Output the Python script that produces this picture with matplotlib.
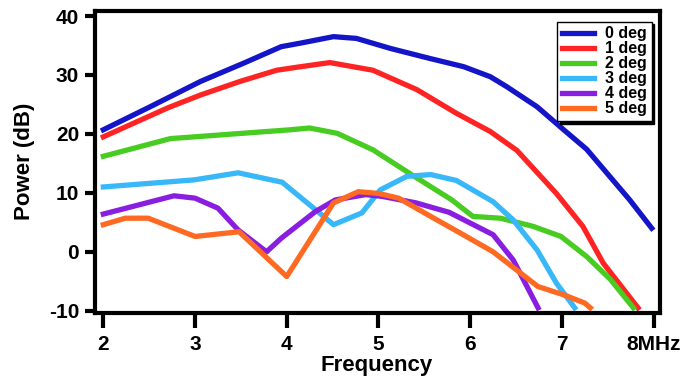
import matplotlib
matplotlib.use('Agg')
import matplotlib.pyplot as plt

plt.rcParams['font.family'] = ['Liberation Sans', 'DejaVu Sans']
plt.rcParams['font.weight'] = 'bold'
plt.rcParams['axes.unicode_minus'] = False

# power vs frequency for each tilt angle
f0 = [2.0, 2.51, 3.06, 3.53, 3.94, 4.15, 4.51, 4.76, 5.13, 5.56, 5.93, 6.22, 6.40, 6.73, 7.02, 7.27, 7.74, 7.98]
p0 = [20.7, 24.6, 28.9, 32.0, 34.8, 35.4, 36.5, 36.2, 34.5, 32.8, 31.4, 29.7, 28.0, 24.6, 20.7, 17.4, 8.8, 4.0]

f1 = [2.0, 2.70, 3.06, 3.49, 3.89, 4.15, 4.47, 4.94, 5.42, 5.85, 6.22, 6.51, 6.94, 7.23, 7.45, 7.83]
p1 = [19.5, 24.4, 26.6, 28.9, 30.8, 31.4, 32.1, 30.8, 27.5, 23.5, 20.4, 17.2, 9.9, 4.3, -1.9, -9.5]

f2 = [2.0, 2.73, 4.04, 4.25, 4.55, 4.94, 5.36, 5.80, 6.03, 6.33, 6.69, 6.99, 7.27, 7.53, 7.78]
p2 = [16.2, 19.2, 20.7, 21.0, 20.1, 17.3, 13.1, 8.8, 6.0, 5.7, 4.3, 2.6, -0.8, -4.7, -9.5]

f3 = [2.0, 2.99, 3.47, 3.95, 4.27, 4.51, 4.82, 5.02, 5.31, 5.57, 5.85, 6.25, 6.47, 6.73, 6.94, 7.14]
p3 = [11.0, 12.2, 13.4, 11.8, 7.7, 4.6, 6.6, 10.5, 12.8, 13.1, 12.1, 8.5, 5.4, 0.3, -5.3, -9.5]

f4 = [2.0, 2.77, 3.0, 3.25, 3.47, 3.78, 3.94, 4.31, 4.53, 4.86, 5.04, 5.41, 5.77, 6.25, 6.47, 6.74]
p4 = [6.4, 9.5, 9.1, 7.4, 3.7, 0.0, 2.3, 6.8, 8.8, 9.7, 9.4, 8.3, 6.7, 2.9, -1.4, -9.5]

f5 = [2.0, 2.24, 2.49, 3.0, 3.48, 4.0, 4.51, 4.78, 5.0, 5.22, 5.57, 5.89, 6.25, 6.74, 7.02, 7.25, 7.31]
p5 = [4.6, 5.7, 5.7, 2.6, 3.4, -4.2, 8.3, 10.2, 9.9, 9.1, 6.0, 3.2, 0.0, -5.9, -7.3, -8.7, -9.5]

labels = ['0 deg', '1 deg', '2 deg', '3 deg', '4 deg', '5 deg']
colors = ['#1414c8', '#ff2424', '#48cc22', '#38b8f8', '#8a1ee0', '#ff6a22']

xticks = [2, 3, 4, 5, 6, 7, 8]
xticklabels = ['2', '3', '4', '5', '6', '7', '8MHz']
yticks = [-10, 0, 10, 20, 30, 40]

fig = plt.figure(figsize=(6.96, 3.86), dpi=100)
ax = fig.add_axes([0.1358, 0.1904, 0.8118, 0.7811])

series = [(f0, p0), (f1, p1), (f2, p2), (f3, p3), (f4, p4), (f5, p5)]
for (f, p), lab, c in zip(series, labels, colors):
    ax.plot(f, p, color=c, lw=3.8, label=lab, solid_joinstyle='round')

ax.set_xlim(1.904, 8.065)
ax.set_ylim(-10.3, 40.85)
ax.set_xticks(xticks)
ax.set_xticklabels(xticklabels)
ax.set_yticks(yticks)

for s in ax.spines.values():
    s.set_linewidth(3)
ax.tick_params(axis='x', direction='out', length=11, width=3, labelsize=15, pad=5)
ax.tick_params(axis='y', direction='out', length=7, width=3, labelsize=15, pad=4)

ax.set_xlabel('Frequency', fontsize=16, fontweight='bold', labelpad=1)
ax.set_ylabel('Power (dB)', fontsize=16, fontweight='bold', labelpad=10)

leg = ax.legend(loc='upper right', bbox_to_anchor=(0.986, 0.9645), borderaxespad=0,
                fontsize=11.5, handlelength=2.0, handletextpad=0.7, labelspacing=0.0,
                borderpad=0.3, fancybox=False, framealpha=1,
                shadow={'color': 'black', 'alpha': 1})
leg.get_frame().set_edgecolor('black')
leg.get_frame().set_linewidth(1.0)

fig.savefig('out.png', dpi=100)
